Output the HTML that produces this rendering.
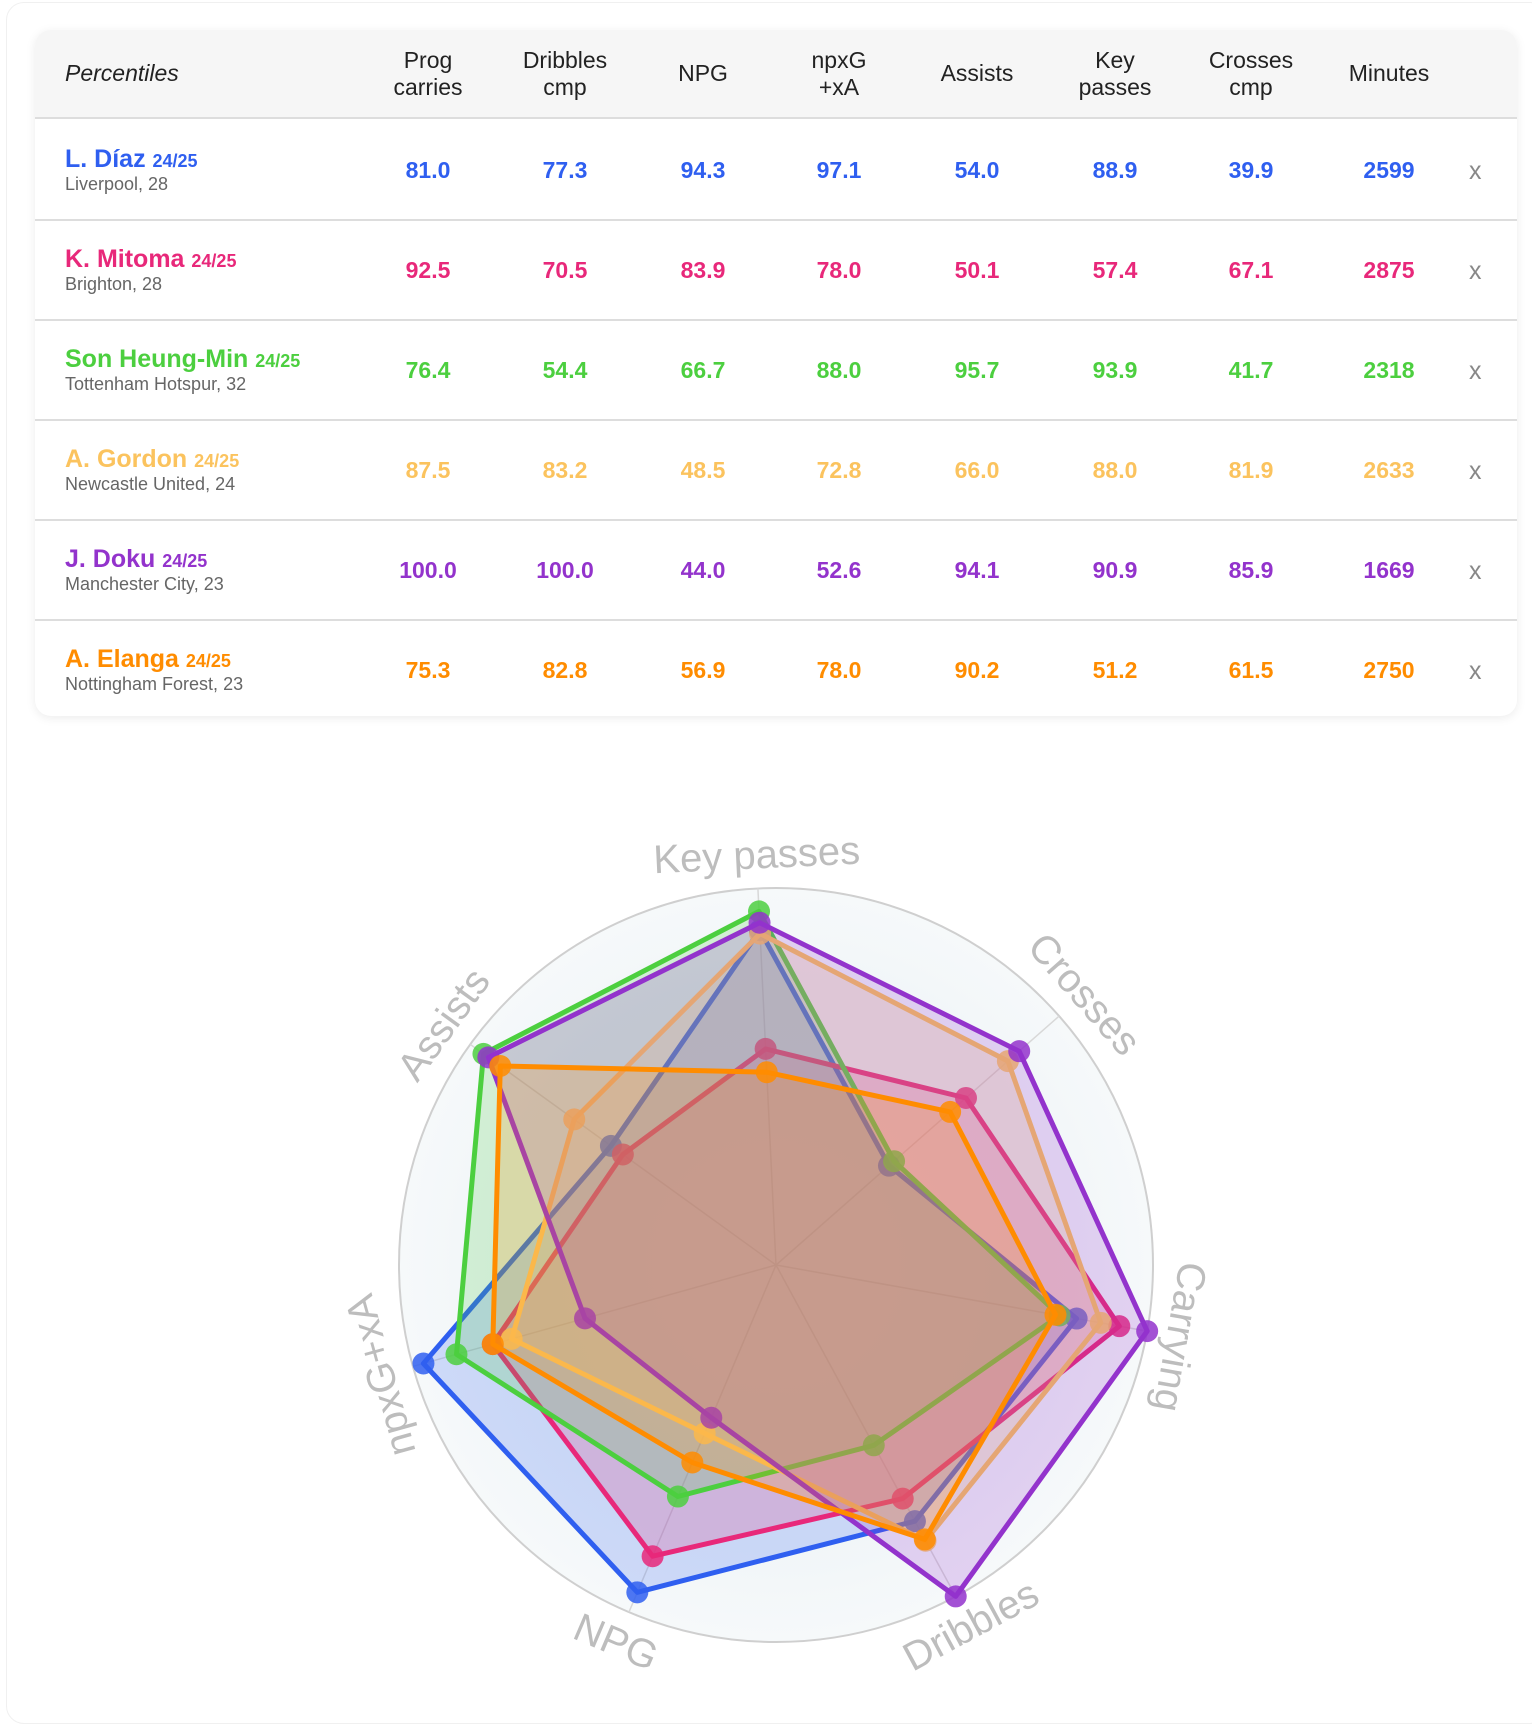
<!DOCTYPE html>
<html><head><meta charset="utf-8">
<style>
html,body{margin:0;padding:0;background:#fff;}
body{width:1532px;height:1700px;position:relative;overflow:hidden;font-family:"Liberation Sans",Arial,sans-serif;}
.frame{position:absolute;left:6px;top:2px;width:1540px;height:1720px;border:1px solid #f0f0f0;border-radius:18px;}
.card{position:absolute;left:35px;top:30px;width:1482px;height:686px;background:#fff;border-radius:16px;box-shadow:0 2px 10px rgba(0,0,0,0.08);overflow:hidden;}
.head{position:absolute;left:0;top:0;width:100%;height:87px;background:#f6f6f6;border-bottom:2px solid #ddd;}
.h{position:absolute;top:0;height:87px;display:flex;align-items:center;justify-content:center;text-align:center;font-size:23px;line-height:27px;color:#222;width:140px;margin-left:-70px;}
.row{position:absolute;left:0;width:100%;height:100px;border-bottom:2px solid #ddd;}
.row:last-child{border-bottom:none;}
.nm{position:absolute;left:30px;top:26px;font-size:25px;font-weight:bold;white-space:nowrap;}
.nm small{font-size:18px;}
.sub{position:absolute;left:30px;top:55px;font-size:18px;color:#666;white-space:nowrap;}
.v{position:absolute;top:38px;width:120px;margin-left:-60px;text-align:center;font-size:23px;font-weight:bold;}
.x{position:absolute;top:38px;left:1434px;font-size:25px;color:#888;}
</style></head><body>
<div class="frame"></div>
<div class="card">
 <div class="head">
  <div class="h" style="left:120px;font-style:italic;justify-content:flex-start;width:200px;margin-left:-90px">Percentiles</div>
  <div class="h" style="left:393px">Prog<br>carries</div>
  <div class="h" style="left:530px">Dribbles<br>cmp</div>
  <div class="h" style="left:668px">NPG</div>
  <div class="h" style="left:804px">npxG<br>+xA</div>
  <div class="h" style="left:942px">Assists</div>
  <div class="h" style="left:1080px">Key<br>passes</div>
  <div class="h" style="left:1216px">Crosses<br>cmp</div>
  <div class="h" style="left:1354px">Minutes</div>
 </div>
 <div id="rows"></div>
</div>
<div style="position:absolute;left:0;top:87px;width:100%"></div>

<div id="tbl" style="position:absolute;left:35px;top:119px;width:1482px;">
 <div class="row" style="top:0px;color:#2f5ff0"><div class="nm">L. Díaz <small>24/25</small></div><div class="sub">Liverpool, 28</div>
  <div class="v" style="left:393px">81.0</div><div class="v" style="left:530px">77.3</div><div class="v" style="left:668px">94.3</div><div class="v" style="left:804px">97.1</div><div class="v" style="left:942px">54.0</div><div class="v" style="left:1080px">88.9</div><div class="v" style="left:1216px">39.9</div><div class="v" style="left:1354px">2599</div><div class="x">x</div></div>
 <div class="row" style="top:100px;color:#e8287a"><div class="nm">K. Mitoma <small>24/25</small></div><div class="sub">Brighton, 28</div>
  <div class="v" style="left:393px">92.5</div><div class="v" style="left:530px">70.5</div><div class="v" style="left:668px">83.9</div><div class="v" style="left:804px">78.0</div><div class="v" style="left:942px">50.1</div><div class="v" style="left:1080px">57.4</div><div class="v" style="left:1216px">67.1</div><div class="v" style="left:1354px">2875</div><div class="x">x</div></div>
 <div class="row" style="top:200px;color:#4ccf3f"><div class="nm">Son Heung-Min <small>24/25</small></div><div class="sub">Tottenham Hotspur, 32</div>
  <div class="v" style="left:393px">76.4</div><div class="v" style="left:530px">54.4</div><div class="v" style="left:668px">66.7</div><div class="v" style="left:804px">88.0</div><div class="v" style="left:942px">95.7</div><div class="v" style="left:1080px">93.9</div><div class="v" style="left:1216px">41.7</div><div class="v" style="left:1354px">2318</div><div class="x">x</div></div>
 <div class="row" style="top:300px;color:#fbc35e"><div class="nm">A. Gordon <small>24/25</small></div><div class="sub">Newcastle United, 24</div>
  <div class="v" style="left:393px">87.5</div><div class="v" style="left:530px">83.2</div><div class="v" style="left:668px">48.5</div><div class="v" style="left:804px">72.8</div><div class="v" style="left:942px">66.0</div><div class="v" style="left:1080px">88.0</div><div class="v" style="left:1216px">81.9</div><div class="v" style="left:1354px">2633</div><div class="x">x</div></div>
 <div class="row" style="top:400px;color:#9333cc"><div class="nm">J. Doku <small>24/25</small></div><div class="sub">Manchester City, 23</div>
  <div class="v" style="left:393px">100.0</div><div class="v" style="left:530px">100.0</div><div class="v" style="left:668px">44.0</div><div class="v" style="left:804px">52.6</div><div class="v" style="left:942px">94.1</div><div class="v" style="left:1080px">90.9</div><div class="v" style="left:1216px">85.9</div><div class="v" style="left:1354px">1669</div><div class="x">x</div></div>
 <div class="row" style="top:500px;color:#ff8c00;border-bottom:none"><div class="nm">A. Elanga <small>24/25</small></div><div class="sub">Nottingham Forest, 23</div>
  <div class="v" style="left:393px">75.3</div><div class="v" style="left:530px">82.8</div><div class="v" style="left:668px">56.9</div><div class="v" style="left:804px">78.0</div><div class="v" style="left:942px">90.2</div><div class="v" style="left:1080px">51.2</div><div class="v" style="left:1216px">61.5</div><div class="v" style="left:1354px">2750</div><div class="x">x</div></div>
</div>
<style>#tbl .sub{color:#666}</style>

<svg id="radar" width="1532" height="1700" style="position:absolute;left:0;top:0" xmlns="http://www.w3.org/2000/svg">
 <defs><radialGradient id="bg"><stop offset="0" stop-color="#f7f9fb"/><stop offset="0.7" stop-color="#f0f5f8"/><stop offset="1" stop-color="#f6f9fa"/></radialGradient></defs>
 <circle cx="776" cy="1265" r="377" fill="url(#bg)" stroke="#cfcfcf" stroke-width="2"/>
 <g id="axes" stroke="#d8d8d8" stroke-width="1.5"></g>
 <g id="series"></g>
 <g font-family="Liberation Sans, Arial, sans-serif" font-size="40" fill="#bdbdbd" text-anchor="middle" dominant-baseline="central">
  <text x="776" y="855" transform="rotate(-2.7 776 1265)">Key passes</text>
  <text x="776" y="855" transform="rotate(48.7 776 1265)">Crosses</text>
  <text x="776" y="855" transform="rotate(100.1 776 1265)">Carrying</text>
  <text x="776" y="1675" transform="rotate(-28.4 776 1265)">Dribbles</text>
  <text x="776" y="1675" transform="rotate(23 776 1265)">NPG</text>
  <text x="776" y="855" transform="rotate(-105.6 776 1265)">npxG+xA</text>
  <text x="776" y="855" transform="rotate(-54.1 776 1265)">Assists</text>
 </g>
</svg>
<script>
(function(){
 var cx=776,cy=1265,R=377,ns="http://www.w3.org/2000/svg";
 var ang=[];for(var k=0;k<7;k++)ang.push((10.1+k*51.43)*Math.PI/180);
 var ax=document.getElementById('axes');
 ang.forEach(function(a){var l=document.createElementNS(ns,'line');l.setAttribute('x1',cx);l.setAttribute('y1',cy);l.setAttribute('x2',cx+R*Math.cos(a));l.setAttribute('y2',cy+R*Math.sin(a));ax.appendChild(l);});
 var data=[
  ['#2f5ff0',[81.0,77.3,94.3,97.1,54.0,88.9,39.9]],
  ['#e8287a',[92.5,70.5,83.9,78.0,50.1,57.4,67.1]],
  ['#4ccf3f',[76.4,54.4,66.7,88.0,95.7,93.9,41.7]],
  ['#fbc35e',[87.5,83.2,48.5,72.8,66.0,88.0,81.9]],
  ['#9333cc',[100,100,44.0,52.6,94.1,90.9,85.9]],
  ['#ff8c00',[75.3,82.8,56.9,78.0,90.2,51.2,61.5]]];
 var g=document.getElementById('series');
 data.forEach(function(d){
  var pts=d[1].map(function(v,i){var r=v/100*R;return [cx+r*Math.cos(ang[i]),cy+r*Math.sin(ang[i])];});
  var p=document.createElementNS(ns,'polygon');
  p.setAttribute('points',pts.map(function(q){return q[0].toFixed(1)+','+q[1].toFixed(1);}).join(' '));
  p.setAttribute('fill',d[0]);p.setAttribute('fill-opacity','0.2');p.setAttribute('stroke',d[0]);p.setAttribute('stroke-width','5');p.setAttribute('stroke-linejoin','round');
  g.appendChild(p);
  pts.forEach(function(q){var c=document.createElementNS(ns,'circle');c.setAttribute('cx',q[0]);c.setAttribute('cy',q[1]);c.setAttribute('r','11');c.setAttribute('fill',d[0]);c.setAttribute('fill-opacity','0.85');g.appendChild(c);});
 });
})();
</script>
</body></html>
